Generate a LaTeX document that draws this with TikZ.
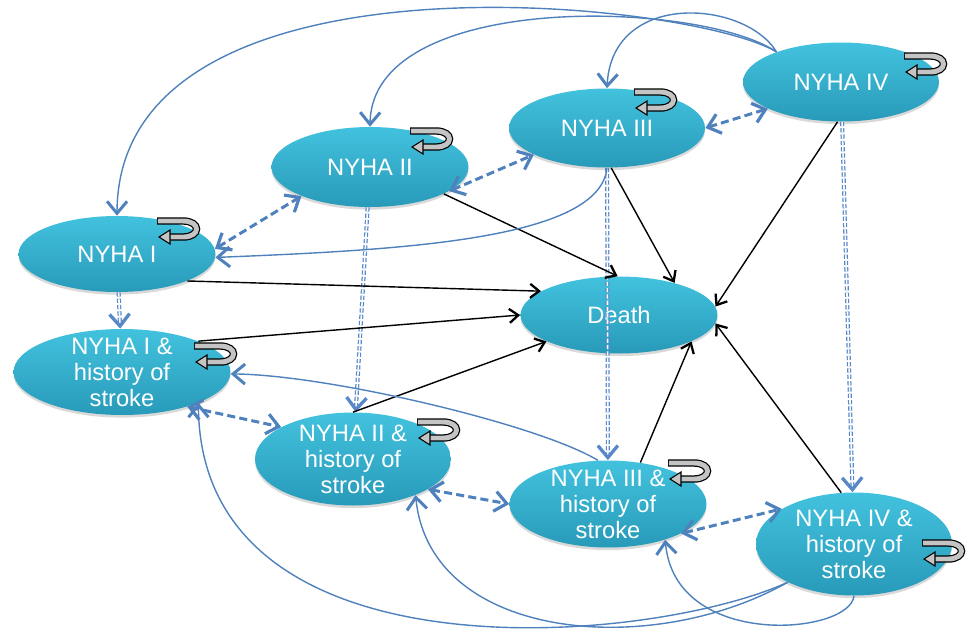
\documentclass[tikz,border=0pt]{standalone}
\usepackage{fontspec}
\setmainfont{Liberation Sans}
\usetikzlibrary{shapes.geometric,arrows.meta,shadows}

\definecolor{statetop}{RGB}{66,194,222}
\definecolor{statebot}{RGB}{40,154,185}
\definecolor{linkblue}{RGB}{79,129,189}
\definecolor{dotblue}{RGB}{88,136,200}
\definecolor{loopgray}{RGB}{196,196,196}

\tikzset{
  state/.style={ellipse, inner sep=0pt, draw=none, top color=statetop, bottom color=statebot,
    drop shadow={shadow xshift=0pt, shadow yshift=-1.5pt, opacity=.3}},
  statetext/.style={text=white, align=center, font=\fontsize{13.5}{14.8}\selectfont},
  todeath/.style={black, line width=.8pt, -{Straight Barb[length=1.8mm,width=2.8mm,line width=1.3pt]}},
  tostroke/.style={dotblue, line width=.7pt, double=white, double distance=.9pt,
    dash pattern=on 2.4pt off 1.2pt, -{Straight Barb[length=2.4mm,width=4mm,line width=1.9pt]}},
  between/.style={linkblue, line width=1.7pt, dash pattern=on 4.6pt off 2.4pt,
    {Straight Barb[length=2.4mm,width=4mm,line width=1.8pt]}-{Straight Barb[length=2.4mm,width=4mm,line width=1.8pt]}},
  recover/.style={linkblue, line width=.8pt, -{Straight Barb[length=2.4mm,width=4mm,line width=1.7pt]}},
  selfloop/.pic={
    \draw[black, line width=4.2pt] (0,4) -- (26,4) .. controls (44,4) and (44,20) .. (26,20) -- (12,20);
    \draw[loopgray, line width=2.8pt] (.8,4) -- (26,4) .. controls (44,4) and (44,20) .. (26,20) -- (11,20);
    \filldraw[fill=loopgray, draw=black, line width=.6pt] (13,13) -- (2,20) -- (13,27) -- cycle;
  }
}

\begin{document}
\begin{tikzpicture}[x=.02cm, y=-.02cm]
\useasboundingbox (0,0) rectangle (967,630);

% states
\node[state, minimum width=3.94cm, minimum height=1.52cm, label={[statetext]center:NYHA I}] (n1) at (117,254) {};
\node[state, minimum width=3.94cm, minimum height=1.6cm, label={[statetext]center:NYHA II}] (n2) at (370,167) {};
\node[state, minimum width=3.92cm, minimum height=1.58cm, label={[statetext]center:NYHA III}] (n3) at (607,128) {};
\node[state, minimum width=3.92cm, minimum height=1.58cm, label={[statetext]center:NYHA IV}] (n4) at (841,82) {};
\node[state, minimum width=4.34cm, minimum height=1.72cm, label={[statetext]center:{NYHA I \&\\history of\\stroke}}] (s1) at (122,372) {};
\node[state, minimum width=3.92cm, minimum height=1.86cm, label={[statetext]center:{NYHA II \&\\history of\\stroke}}] (s2) at (353,459) {};
\node[state, minimum width=3.94cm, minimum height=1.74cm, label={[statetext]center:{NYHA III \&\\history of\\stroke}}] (s3) at (608,504) {};
\node[state, minimum width=3.92cm, minimum height=2.06cm, label={[statetext]center:{NYHA IV \&\\history of\\stroke}}] (s4) at (854,544) {};
\node[state, minimum width=3.94cm, minimum height=1.54cm, label={[statetext]center:Death}] (death) at (619,315) {};

% staying in the same state
\foreach \n/\dx/\dy in {n1/40/-37, n2/40/-40, n3/27/-40, n4/63/-30, s1/72/-30, s2/64/-41, s3/60/-45, s4/68/-5}
  \pic at ([shift={(\dx,\dy)}]\n.center) {selfloop};

% stroke
\draw[tostroke] (n1) -- (s1);
\draw[tostroke] (n2) -- (s2);
\draw[tostroke] (n3) -- (s3);
\draw[tostroke] (n4) -- (s4);

% neighbouring classes
\draw[between] (n1.3) -- (n2.203);
\draw[between] (n2.-17) -- (n3.200);
\draw[between] (n3.0) -- (n4.200);
\draw[between] (s1.-28) -- (s2.156);
\draw[between] (s2.-22) -- (s3.180);
\draw[between] (s3.-22) -- (s4.154);

% death
\draw[todeath] (n1.-21) -- (death.163);
\draw[todeath] (s1.22) -- (death.180);
\draw[todeath] (s2.90) -- (death.200);
\draw[todeath] (n2.-20) -- (death.92);
\draw[todeath] (n3.-84) -- (death.30);
\draw[todeath] (n4.265) -- (death.5);
\draw[todeath] (s3.52) -- (death.-20);
\draw[todeath] (s4.104) -- (death.-5);

% improvement by more than one class
\draw[recover] (n4.155) .. controls (690,0) and (118,-60) .. (n1.north);
\draw[recover] (n4.155) .. controls (700,0) and (372,-10) .. (n2.north);
\draw[recover] (n4.155) .. controls (745,0) and (612,-10) .. (n3.north);
\draw[recover] (n3.south) .. controls (600,240) and (400,250) .. (n1.-2);
\draw[recover] (s4.210) .. controls (650,645) and (200,685) .. (s1.-22);
\draw[recover] (s4.210) .. controls (650,660) and (430,640) .. (s2.-30);
\draw[recover] (s4.south) .. controls (850,635) and (675,650) .. (s3.-32);
\draw[recover] (s3.103) .. controls (540,425) and (330,375) .. (s1.-1);
\end{tikzpicture}
\end{document}
